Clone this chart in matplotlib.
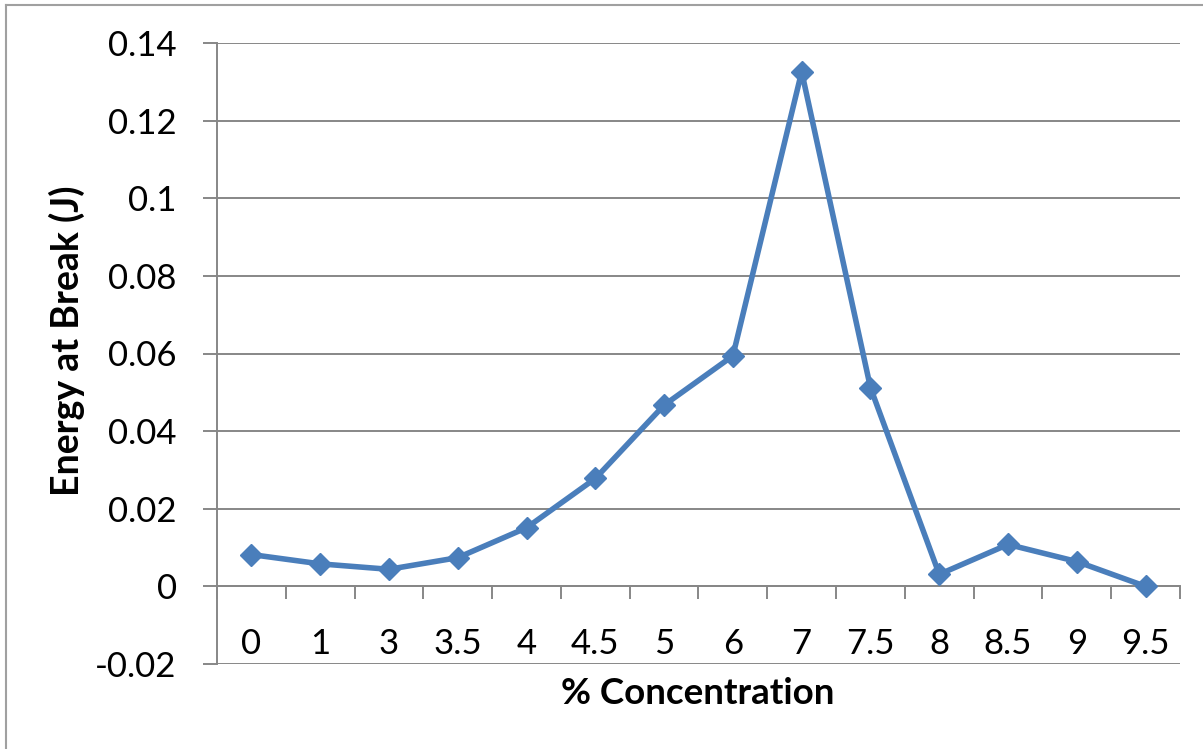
import numpy as np
from matplotlib import pyplot as plt
from matplotlib.lines import Line2D

## data

concentration = ['0', '1', '3', '3.5', '4', '4.5', '5', '6', '7', '7.5', '8', '8.5', '9', '9.5']
energy = [0.0082, 0.0058, 0.0044, 0.0074, 0.0151, 0.0278, 0.0467, 0.0594,
          0.1326, 0.0512, 0.0031, 0.0108, 0.0064, 0.0]
yticks = [-0.02, 0, 0.02, 0.04, 0.06, 0.08, 0.1, 0.12, 0.14]
ytick_labels = ['-0.02', '0', '0.02', '0.04', '0.06', '0.08', '0.1', '0.12', '0.14']

plt.rcParams['font.family'] = ['Lato', 'DejaVu Sans']
grid_col = '#878787'
line_col = '#4a7ebb'

W, H = 1203, 749
fig = plt.figure(figsize=(W/100, H/100), dpi=100)
ax = fig.add_axes([217/W, 1 - 664/H, (1180-217)/W, (664-43)/H])

x = np.arange(len(concentration))
ax.plot(x, energy, color=line_col, lw=4, marker='D', ms=11.5,
        markerfacecolor=line_col, markeredgecolor=line_col, zorder=5)

## axes limits, grid
ax.set_xlim(-0.5, len(concentration) - 0.5)
ax.set_ylim(-0.02, 0.14)
ax.set_yticks(yticks)
ax.set_yticklabels(ytick_labels, fontsize=25)
ax.yaxis.grid(True, color=grid_col, lw=1.4)
ax.set_axisbelow(True)
ax.tick_params(axis='y', length=10, width=1.4, color=grid_col, pad=19)

for s in ['top', 'right', 'bottom']:
    ax.spines[s].set_visible(False)
ax.spines['left'].set_color(grid_col)
ax.spines['left'].set_linewidth(1.4)

## category axis sitting at y = 0
ax.spines['bottom'].set_visible(True)
ax.spines['bottom'].set_position(('data', 0))
ax.spines['bottom'].set_color(grid_col)
ax.spines['bottom'].set_linewidth(1.4)
ax.set_xticks(x)
ax.set_xticklabels(concentration, fontsize=25)
ax.set_xticks(np.arange(-0.5, len(concentration)), minor=True)
ax.tick_params(axis='x', which='major', length=0, pad=30)
ax.tick_params(axis='x', which='minor', length=9, width=1.4, color=grid_col)

fig.text(698/W, 1 - 693/H, '% Concentration', fontsize=26.5, fontweight='bold',
         ha='center', va='center')
fig.text(67/W, 1 - 341/H, 'Energy at Break (J)', fontsize=27, fontweight='bold',
         ha='center', va='center', rotation=90)

## chart border
fig.add_artist(Line2D([6/W, 6/W], [0, 1 - 5/H], color='#a0a0a0', lw=1.5,
                      transform=fig.transFigure))
fig.add_artist(Line2D([6/W, 1], [1 - 5/H, 1 - 5/H], color='#a0a0a0', lw=1.5,
                      transform=fig.transFigure))

fig.savefig('out.png', dpi=100)
